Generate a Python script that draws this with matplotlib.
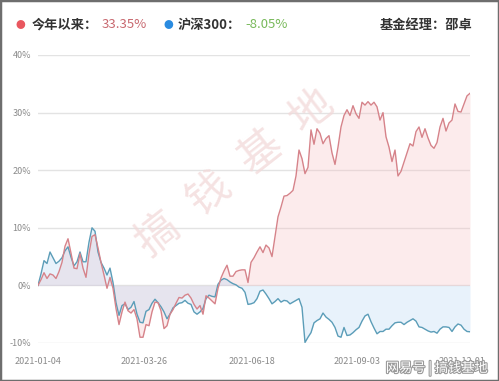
import matplotlib.pyplot as plt
import matplotlib.patheffects as pe
from matplotlib.patches import Rectangle
import numpy as np

plt.rcParams['font.family'] = ['Noto Sans CJK SC', 'DejaVu Sans']

# cumulative return since 2021-01-04, percent
fund = [0, 1.0, 2.2, 1.2, 2.0, 1.8, 1.2, 2.4, 4.0, 6.8,
        8.1, 5.6, 3.0, 2.9, 5.5, 3.0, 1.4, 5.5, 8.5, 8.8,
        6.5, 4.0, 1.8, -0.5, 1.4, -0.5, -4.0, -6.8, -4.6, -2.9,
        -4.4, -4.8, -4.2, -5.8, -9.0, -9.0, -6.8, -7.0, -4.6, -2.9,
        -3.0, -4.4, -7.5, -7.0, -5.0, -4.2, -3.1, -2.1, -2.2, -1.7,
        -1.5, -2.2, -3.3, -4.1, -3.5, -5.0, -1.8, -2.2, -2.7, -3.2,
        -0.5, 1.3, 2.5, 3.5, 1.6, 1.6, 2.4, 2.6, 2.7, 2.7,
        0.5, 4.0, 4.8, 5.8, 6.7, 5.7, 7.0, 6.5, 5.0, 8.4,
        11.9, 13.6, 15.5, 15.6, 16.0, 16.5, 19.0, 23.5, 22.0, 19.4,
        20.5, 27.0, 24.5, 27.2, 26.4, 24.6, 25.5, 26.0, 23.0, 21.0,
        24.0, 27.5, 29.5, 30.5, 29.5, 31.2, 29.8, 29.0, 31.8, 31.3,
        31.9, 31.3, 31.8, 31.0, 28.7, 30.0, 25.8, 24.0, 21.5, 23.5,
        19.0, 19.8, 21.4, 23.0, 24.6, 24.2, 26.7, 27.5, 25.7, 27.2,
        25.6, 24.3, 23.8, 24.8, 27.5, 29.0, 26.8, 28.2, 28.7, 31.5,
        30.2, 30.1, 31.5, 32.9, 33.35]

hs300 = [0, 2.0, 4.3, 3.8, 5.8, 4.8, 3.8, 4.2, 4.8, 6.0,
         6.7, 4.9, 3.4, 4.1, 5.8, 4.1, 4.1, 7.5, 10.0, 9.4,
         5.8, 4.0, 3.0, 1.8, 3.0, 0.5, -3.0, -5.2, -3.5, -3.2,
         -4.2, -3.8, -2.8, -5.0, -6.4, -6.5, -4.5, -4.2, -3.1, -2.4,
         -3.0, -3.7, -4.6, -5.8, -5.0, -3.9, -3.5, -3.1, -3.0, -2.6,
         -3.1, -3.3, -4.6, -5.0, -4.6, -4.0, -2.3, -1.7, -1.9, -2.0,
         0.2, 0.9, 1.2, 1.0, 0.6, 0.3, 0.1, -0.3, -0.5, -1.2,
         -3.3, -3.2, -3.0, -2.3, -1.0, -0.8, -1.5, -2.3, -3.2, -2.8,
         -2.3, -2.9, -2.6, -2.7, -3.2, -2.9, -2.6, -2.3, -3.8, -9.9,
         -9.0, -8.2, -6.5, -6.1, -5.8, -4.8, -5.5, -5.9, -6.4, -7.3,
         -8.8, -9.0, -7.3, -8.7, -8.6, -8.2, -7.7, -7.3, -6.2, -5.3,
         -5.0, -6.3, -7.4, -8.4, -8.0, -8.0, -7.6, -7.6, -7.0, -6.5,
         -6.4, -6.4, -6.8, -6.4, -6.1, -5.8, -6.2, -7.2, -7.3, -7.6,
         -7.9, -8.1, -8.0, -8.3, -7.6, -7.2, -7.2, -7.3, -8.0, -7.2,
         -6.7, -6.9, -7.6, -8.0, -8.05]

date_labels = ['2021-01-04', '2021-03-26', '2021-06-18', '2021-09-03', '2021-12-01']
date_pos = [0, 35.3, 71.3, 106.3, 141.3]
y_ticks = [-10, 0, 10, 20, 30, 40]

x = np.arange(len(fund))
fund = np.array(fund)
hs300 = np.array(hs300)

fig = plt.figure(figsize=(4.99, 3.81), dpi=100)
ax = fig.add_axes([38 / 499, 38 / 381, 432 / 499, 288 / 381])

ax.fill_between(x, fund, 0, color='#f7b9bd', alpha=0.28, lw=0)
ax.fill_between(x, hs300, 0, color='#b5d6f3', alpha=0.3, lw=0)
ax.plot(x, hs300, color='#5b9db8', lw=1.0)
ax.plot(x, fund, color='#d6838a', lw=1.0)

ax.set_xlim(0, len(fund) - 1)
ax.set_ylim(-10, 40)
ax.set_yticks(y_ticks)
ax.set_yticklabels([f'{v}%' for v in y_ticks])
ax.set_xticks(date_pos)
ax.set_xticklabels(date_labels)
ax.grid(axis='y', color='#e3e3e3', lw=1)
ax.set_axisbelow(True)
for s in ax.spines.values():
    s.set_visible(False)
ax.tick_params(length=0, labelsize=6.5, labelcolor='#8a8a8a')
ax.tick_params(axis='y', pad=5)
ax.tick_params(axis='x', pad=10)

# header legend
fig.text(20 / 499, 1 - 25 / 381, '●', color='#e9575f', fontsize=7, va='center', ha='center')
fig.text(32 / 499, 1 - 25 / 381, '今年以来：', color='#333333', fontsize=9.5,
         fontweight='bold', va='center')
fig.text(102 / 499, 1 - 25 / 381, '33.35%', color='#c8686f', fontsize=9.5, va='center')
fig.text(168 / 499, 1 - 25 / 381, '●', color='#2a8be0', fontsize=7, va='center', ha='center')
fig.text(178 / 499, 1 - 25 / 381, '沪深300：', color='#333333', fontsize=9.5,
         fontweight='bold', va='center')
fig.text(245 / 499, 1 - 25 / 381, '-8.05%', color='#78b95a', fontsize=9.5, va='center')
fig.text(472 / 499, 1 - 25 / 381, '基金经理：邵卓', color='#333333', fontsize=9.5,
         fontweight='bold', va='center', ha='right')

# diagonal watermark
wm = '搞钱基地'
x0, y0, x1, y1 = 158, 235, 312, 112
for k, ch in enumerate(wm):
    t = k / (len(wm) - 1)
    fig.text((x0 + t * (x1 - x0)) / 499, 1 - (y0 + t * (y1 - y0)) / 381, ch,
             fontsize=31, color='#f2d9d9', alpha=0.75, rotation=38,
             ha='center', va='center')

# bottom-right watermark
fig.text(437 / 499, 1 - 368 / 381, '网易号 | 搞钱基地', color='white', fontsize=9.5,
         ha='center', va='center',
         path_effects=[pe.withStroke(linewidth=1.6, foreground='#9a9a9a')])

fig.patches.append(Rectangle((0, 0), 1, 1, transform=fig.transFigure, fill=False,
                             edgecolor='#6e6e6e', lw=2.5))

fig.savefig('out.png', dpi=100)
